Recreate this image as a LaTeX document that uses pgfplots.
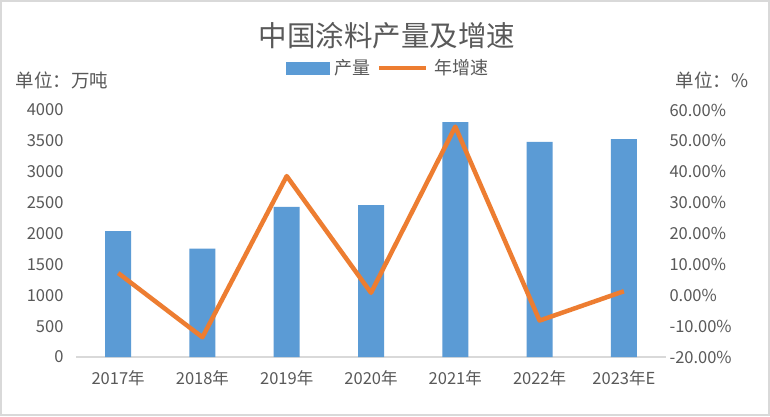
\documentclass[border=0pt]{standalone}
\usepackage{pgfplots}
\pgfplotsset{compat=1.18}
\usepackage{fontspec}
\setmainfont{Noto Sans CJK SC}
\definecolor{barblue}{HTML}{5B9BD5}
\definecolor{lineorange}{HTML}{ED7D31}
\definecolor{txtgray}{HTML}{595959}
\definecolor{axgray}{HTML}{D9D9D9}
\begin{document}
\begin{tikzpicture}[x=1pt,y=1pt]
\fill[white] (0,0) rectangle (770,416);
\draw[axgray, line width=2pt] (1,1) rectangle (769,415);
\node[text=txtgray, font=\fontsize{28.5}{32}\selectfont] at (387,380) {中国涂料产量及增速};
\node[text=txtgray, font=\fontsize{18.5}{21}\selectfont] at (62,336) {单位：万吨};
\node[text=txtgray, font=\fontsize{18.5}{21}\selectfont] at (712,336) {单位：\%};
\begin{axis}[
  at={(76pt,59pt)}, anchor=south west,
  scale only axis, width=590pt, height=247pt,
  xmin=-0.5, xmax=6.5, ymin=0, ymax=4000,
  xtick={0,1,2,3,4,5,6},
  xticklabels={2017年,2018年,2019年,2020年,2021年,2022年,2023年E},
  ytick={0,500,1000,1500,2000,2500,3000,3500,4000},
  /pgf/number format/assume math mode=true,
  /pgf/number format/1000 sep={},
  axis x line*=bottom, axis y line*=left,
  axis line style={-},
  x axis line style={draw=axgray, line width=1.5pt},
  y axis line style={draw=none},
  major tick length=0pt,
  tick label style={text=txtgray, font=\fontsize{16.5}{19}\selectfont},
  yticklabel style={xshift=-9pt},
  xticklabel style={yshift=-10pt},
  ybar, bar width=26pt,
  clip=false,
]
\addplot[fill=barblue, draw=none] coordinates {(0,2040) (1,1755) (2,2430) (3,2460) (4,3805) (5,3485) (6,3530)};
\end{axis}
\begin{axis}[
  at={(76pt,59pt)}, anchor=south west,
  scale only axis, width=590pt, height=247pt,
  xmin=-0.5, xmax=6.5, ymin=-20, ymax=60,
  axis x line=none,
  axis y line*=right,
  axis line style={-},
  y axis line style={draw=none},
  major tick length=0pt,
  ytick={-20,-10,0,10,20,30,40,50,60},
  yticklabels={-20.00\%,-10.00\%,0.00\%,10.00\%,20.00\%,30.00\%,40.00\%,50.00\%,60.00\%},
  yticklabel style={text=txtgray, font=\fontsize{16.5}{19}\selectfont, anchor=west, xshift=0pt},
  legend style={at={(0.529,1.170)}, anchor=center, draw=none, fill=none,
    font=\fontsize{18}{21}\selectfont, text=txtgray, legend columns=2,
    /tikz/every even column/.append style={column sep=0pt},
    /tikz/every odd column/.append style={column sep=0pt},
    nodes={inner sep=2.5pt}},
  legend cell align=left,
  clip=false,
]
\addlegendimage{legend image code/.code={\fill[barblue] (0pt,-6pt) rectangle (43pt,6pt); \path (46pt,0pt);}}
\addlegendentry{产量}
\addplot[lineorange, line width=4.5pt, line join=round, legend image code/.code={\path (-4pt,0pt); \draw[lineorange, line width=4pt] (0pt,0pt) -- (47pt,0pt); \path (50pt,0pt);}] coordinates {(0,7.2) (1,-13.6) (2,38.6) (3,0.8) (4,54.6) (5,-8.2) (6,1.3)};
\addlegendentry{年增速}
\end{axis}
\end{tikzpicture}
\end{document}
